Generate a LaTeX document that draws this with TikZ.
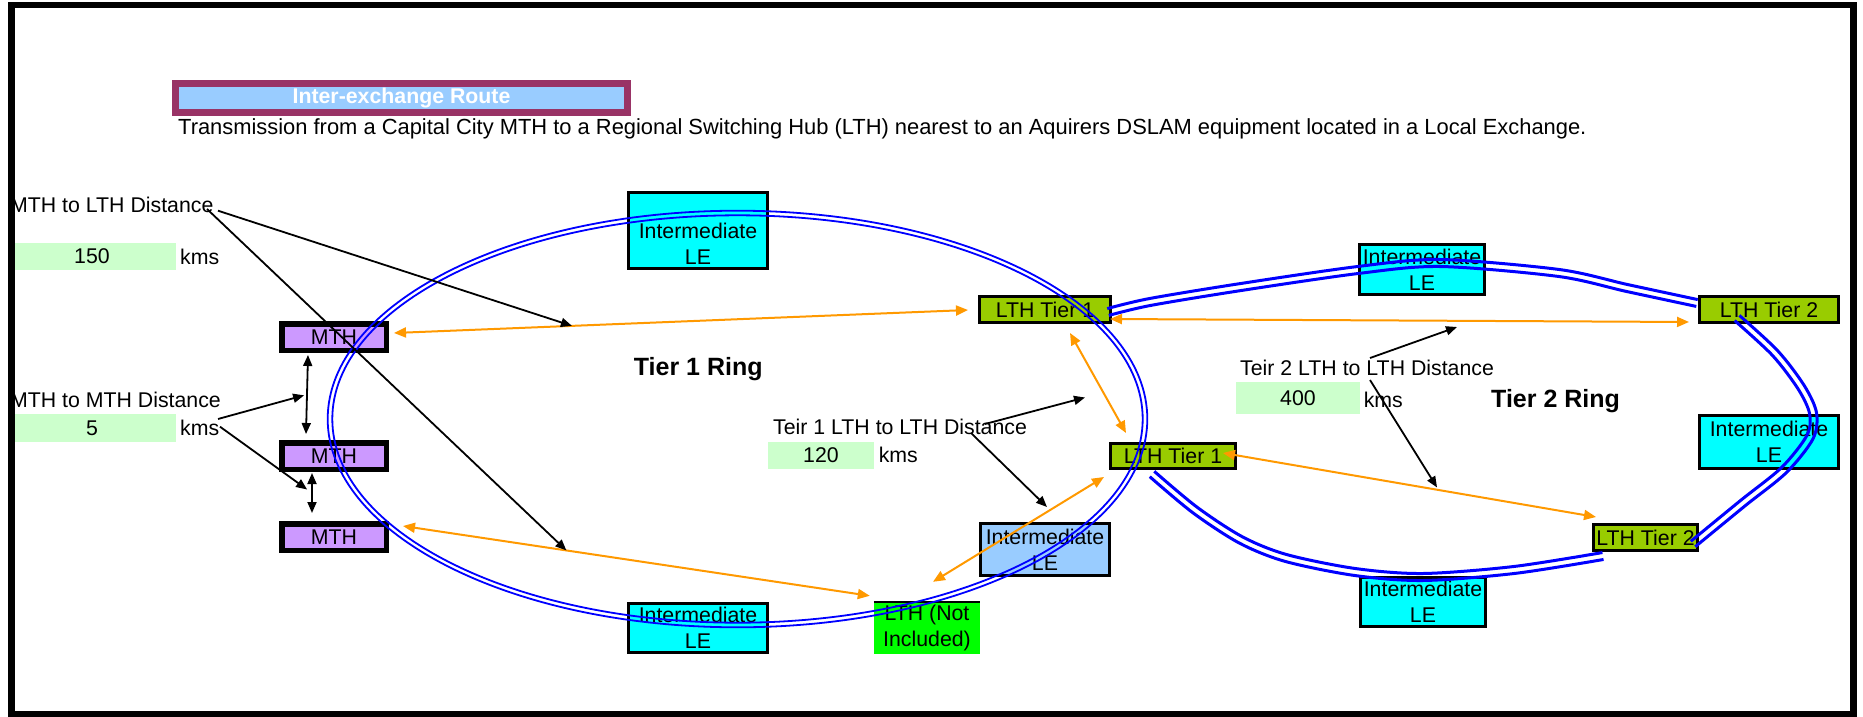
\documentclass[tikz,border=0pt]{standalone}
\usepackage{fontspec}
\setmainfont{Liberation Sans}
\usetikzlibrary{arrows.meta,calc}

\definecolor{ringblue}{HTML}{0000FF}
\definecolor{arrorange}{HTML}{FF9900}
\definecolor{lecyan}{HTML}{00FFFF}
\definecolor{lelight}{HTML}{99CCFF}
\definecolor{lthgreen}{HTML}{99CC00}
\definecolor{nigreen}{HTML}{00FF00}
\definecolor{mthpurple}{HTML}{CC99FF}
\definecolor{valgreen}{HTML}{CCFFCC}
\definecolor{titlemaroon}{HTML}{993366}
\definecolor{titleblue}{HTML}{99CCFF}

\begin{document}
\begin{tikzpicture}[x=1pt,y=-1pt,
  every node/.style={inner sep=0pt, font=\fontsize{21.3}{26}\selectfont},
  lbl/.style={anchor=base west},
  ringlbl/.style={anchor=base west, font=\fontsize{25}{29}\selectfont\bfseries},
  box/.style={draw=black, line width=3pt, align=center},
  lebox/.style={box, fill=lecyan},
  lthbox/.style={box, fill=lthgreen},
  mthbox/.style={draw=black, line width=5.5pt, fill=mthpurple,
                 minimum width=104.5pt, minimum height=26.5pt},
  valbox/.style={fill=valgreen},
  ringone/.style={draw=ringblue, line width=1.8pt},
  ringtwo/.style={draw=ringblue, line width=3pt},
  oarrow/.style={draw=arrorange, line width=2pt,
    {Triangle[length=12pt,width=10pt]}-{Triangle[length=12pt,width=10pt]}},
  barrow/.style={draw=black, line width=1.8pt, -{Triangle[length=11pt,width=9pt]}},
  bdouble/.style={draw=black, line width=1.8pt,
    {Triangle[length=11pt,width=9pt]}-{Triangle[length=11pt,width=9pt]}}
]

% page background and size
\fill[white] (0,0) rectangle (1863,717);
\useasboundingbox (0,0) rectangle (1863,717);

% heading
\node[draw=titlemaroon, line width=6.7pt, fill=titleblue,
      minimum width=452.3pt, minimum height=29.3pt,
      text=white, font=\fontsize{21.3}{26}\selectfont\bfseries] (title) at (401.5,98) {Inter-exchange Route};
\node[lbl, font=\fontsize{21.9}{26}\selectfont] (desc) at (178,134) {Transmission from a Capital City MTH to a Regional Switching Hub (LTH) nearest to an Aquirers DSLAM equipment located in a Local Exchange.};

% distance labels and values
\node[lbl] (tmthlth) at (10,212.3) {MTH to LTH Distance};
\node[valbox, minimum width=168pt, minimum height=27pt] (v150) at (92,256.5) {150};
\node[lbl] (k150) at (180,264.5) {kms};

\node[lbl] (tmthmth) at (10,407.3) {MTH to MTH Distance};
\node[valbox, minimum width=168pt, minimum height=28pt] (v5) at (92,428) {5};
\node[lbl] (k5) at (180,435) {kms};

\node[lbl] (tteirone) at (773,434) {Teir 1 LTH to LTH Distance};
\node[valbox, minimum width=106pt, minimum height=27pt] (v120) at (821,455.5) {120};
\node[lbl] (k120) at (878.6,462.7) {kms};

\node[lbl] (tteirtwo) at (1240,375) {Teir 2 LTH to LTH Distance};
\node[valbox, minimum width=124.5pt, minimum height=32pt] (v400) at (1298,398) {400};
\node[lbl] (k400) at (1363.6,407.3) {kms};

\node[ringlbl] (ringA) at (633.7,375) {Tier 1 Ring};
\node[ringlbl] (ringB) at (1491,407.3) {Tier 2 Ring};

% exchanges
\node[lebox, minimum width=139pt, minimum height=76pt] (leA) at (698,230.5) {};
\node[align=center] (leAtxt) at (698,244) {Intermediate\\LE};
\node[lebox, minimum width=139pt, minimum height=49pt] (leB) at (698,628) {Intermediate\\LE};
\node[box, fill=lelight, minimum width=129pt, minimum height=52pt] (leM) at (1045,549.5) {Intermediate\\LE};
\node[fill=nigreen, minimum width=106pt, minimum height=52pt, align=center] (lthNI) at (927,628) {LTH (Not\\Included)};
\draw[line width=2.3pt] (lthNI.north west) -- (lthNI.north east);
\node[lebox, minimum width=125pt, minimum height=50pt] (leC) at (1422,269.5) {Intermediate\\LE};
\node[lebox, minimum width=139pt, minimum height=53pt] (leD) at (1769,442) {Intermediate\\LE};
\node[lebox, minimum width=125pt, minimum height=49pt] (leE) at (1423,602) {Intermediate\\LE};

\node[lthbox, minimum width=131pt, minimum height=26pt] (lthA) at (1045,309.5) {LTH Tier 1};
\node[lthbox, minimum width=125pt, minimum height=25pt] (lthB) at (1173,456) {LTH Tier 1};
\node[lthbox, minimum width=139pt, minimum height=26pt] (lthC) at (1769,309.5) {LTH Tier 2};
\node[lthbox, minimum width=104pt, minimum height=26pt] (lthD) at (1645.5,537.5) {LTH Tier 2};

\node[mthbox] (mth1) at (334,337) {MTH};
\node[mthbox] (mth2) at (334,456) {MTH};
\node[mthbox] (mth3) at (334,537) {MTH};

% Tier 1 ring: a double ellipse
\draw[ringone] (737.5,419) ellipse [x radius=409.8pt, y radius=208.3pt];
\draw[ringone] (737.5,419) ellipse [x radius=405.2pt, y radius=203.7pt];

% Tier 2 ring: three double-line spans
\draw[ringtwo] plot[smooth] coordinates {(1107.2,308.6) (1149.35,298.56) (1240.47,283.54) (1357.58,266.52) (1440.05,259.5) (1559.46,269.53) (1627.74,284.58) (1697.73,299.58)};
\draw[ringtwo] plot[smooth] coordinates {(1108.8,315.4) (1150.65,305.44) (1241.53,290.46) (1358.42,273.48) (1439.95,266.5) (1558.54,276.47) (1626.26,291.42) (1696.27,306.42)};

\draw[ringtwo] plot[smooth] coordinates {(1734.63,320.57) (1772.43,355.38) (1798.04,388.87) (1809.56,413.62) (1806.88,435.41) (1781.54,467.51) (1740.79,500.28) (1690.78,541.29)};
\draw[ringtwo] plot[smooth] coordinates {(1739.37,315.43) (1777.57,350.62) (1803.96,385.13) (1816.44,412.38) (1813.12,438.59) (1786.46,472.49) (1745.21,505.72) (1695.22,546.71)};

\draw[ringtwo] plot[smooth] coordinates {(1154.25,471.32) (1197.09,507.19) (1242.63,536.91) (1286.95,554.63) (1355.48,568.53) (1422.96,573.5) (1513.59,566.52) (1602.46,552.54)};
\draw[ringtwo] plot[smooth] coordinates {(1149.75,476.68) (1192.91,512.81) (1239.37,543.09) (1285.05,561.37) (1354.52,575.47) (1423.04,580.5) (1514.41,573.48) (1603.54,559.46)};

% transmission routes
\draw[oarrow] ([shift={(5,-4)}]mth1.east) -- coordinate[pos=0.31] (o1m) ([shift={(-10,0.5)}]lthA.west);
\draw[oarrow] ([shift={(-2,-5)}]lthA.south east) -- ([shift={(-9,-2)}]lthC.south west);
\draw[oarrow] ([shift={(25,9)}]lthA.south) -- ([shift={(17,-9)}]lthB.north west);
\draw[oarrow] ([shift={(-14,-3)}]lthB.east) -- coordinate[pos=0.578] (o4m) ([shift={(4,-6)}]lthD.north west);
\draw[oarrow] ([shift={(-5,7)}]lthB.south west) -- ([shift={(6,-20)}]lthNI.north);
\draw[oarrow] ([shift={(14,-11)}]mth3.east) -- coordinate[pos=0.35] (o6m) ([shift={(-4,-6)}]lthNI.north west);

% MTH to MTH spans
\draw[bdouble] ([shift={(-26,2)}]mth1.south) -- coordinate[pos=0.5] (d1m) ([shift={(-28,-6)}]mth2.north);
\draw[bdouble] ([shift={(-22,1)}]mth2.south) -- coordinate[pos=0.5] (d2m) ([shift={(-22,-8)}]mth3.north);

% pointers from the distance labels
\coordinate (s1) at (218,210.7);
\coordinate (s2) at (207,209);
\coordinate (s3) at (218,419);
\coordinate (s4) at (220,426.7);
\coordinate (s5) at (985,424);
\coordinate (t5) at (1085,397.5);
\coordinate (s6) at (971,433);
\coordinate (s7) at (1370,358);
\coordinate (t7) at (1457,327);
\coordinate (s8) at (1370,380);

\draw[barrow] (s1) -- (o1m);
\draw[barrow] (s2) -- (o6m);
\draw[barrow, shorten >=3pt] (s3) -- (d1m);
\draw[barrow, shorten >=6pt] (s4) -- (d2m);
\draw[barrow] (s5) -- (t5);
\draw[barrow] (s6) -- ([shift={(2,-15)}]leM.north);
\draw[barrow] (s7) -- (t7);
\draw[barrow, shorten >=3pt] (s8) -- (o4m);

% frame
\draw[line width=6.6pt] (11.2,5) rectangle (1853.5,714.2);
\end{tikzpicture}
\end{document}
